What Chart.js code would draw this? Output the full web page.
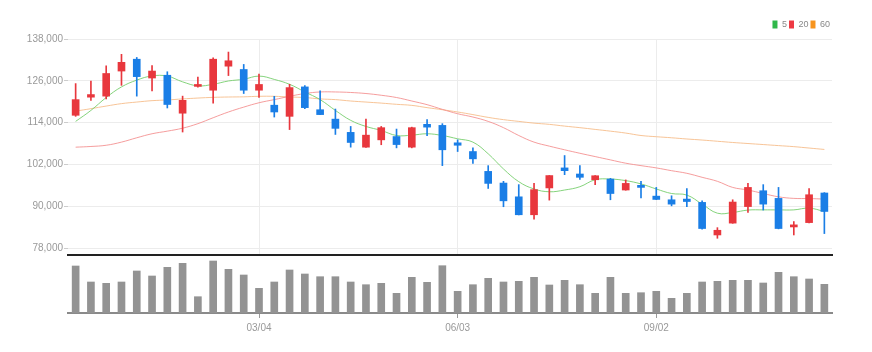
<!DOCTYPE html>
<html>
<head>
<meta charset="utf-8">
<script src="https://cdn.jsdelivr.net/npm/chart.js@4.4.1/dist/chart.umd.min.js"></script>
<style>
  html, body { margin: 0; padding: 0; background: #fff; }
  #wrap { position: relative; width: 872px; height: 352px; }
  #priceBox { position: absolute; left: 0; top: 0; width: 872px; height: 262px; }
  #volBox { position: absolute; left: 0; top: 257px; width: 872px; height: 95px; }
</style>
</head>
<body>
<div id="wrap">
  <div id="volBox"><canvas id="volChart"></canvas></div>
  <div id="priceBox"><canvas id="priceChart"></canvas></div>
</div>
<script>
// weekly candles
const weeks = [
  "12/11", "12/18", "12/25", "01/01", "01/08", "01/15", "01/22", "01/29", "02/05", "02/12",
  "02/19", "02/26", "03/04", "03/11", "03/18", "03/25", "04/01", "04/08", "04/15", "04/22",
  "04/29", "05/06", "05/13", "05/20", "05/27", "06/03", "06/10", "06/17", "06/24", "07/01",
  "07/08", "07/15", "07/22", "07/29", "08/05", "08/12", "08/19", "08/26", "09/02", "09/09",
  "09/16", "09/23", "09/30", "10/07", "10/14", "10/21", "10/28", "11/04", "11/11", "11/18",
];
const shownDates = ["03/04", "06/03", "09/02"];
const priceTicks = [78000, 90000, 102000, 114000, 126000, 138000];

const opens = [
  116100, 121300, 121600, 128800, 132200, 126800, 127600, 116700, 124400, 123300,
  130200, 129250, 123300, 119000, 115800, 124250, 117700, 115000, 111200, 106950,
  109050, 110000, 106950, 113500, 113200, 108200, 105700, 100000, 96650, 92700,
  87550, 95250, 101000, 99250, 97600, 97800, 94650, 96000, 92900, 91850,
  92050, 91100, 81750, 85150, 89900, 94450, 92250, 84050, 85300, 93800,
];
const highs = [
  125200, 125900, 130300, 133600, 132700, 130400, 128600, 121600, 127100, 132600,
  134250, 130700, 127900, 121550, 125000, 124650, 123100, 117900, 112900, 115000,
  112900, 112150, 112700, 114850, 113700, 109050, 106750, 101650, 97150, 96200,
  96550, 98800, 104550, 101650, 98800, 98000, 97550, 97150, 95400, 93000,
  95100, 91550, 83850, 91850, 96550, 96200, 95400, 85600, 95100, 93900,
];
const lows = [
  115800, 120400, 120800, 124700, 121600, 123100, 118200, 111300, 124150, 119600,
  127500, 122350, 121200, 115600, 112000, 118000, 116250, 110600, 106950, 106900,
  107650, 106750, 106750, 110250, 101650, 105700, 102300, 95100, 89850, 87500,
  86300, 91750, 99050, 97700, 96200, 91850, 94600, 92350, 91900, 90100,
  89850, 83400, 80800, 85100, 88200, 88900, 83500, 81750, 85200, 82150,
];
const closes = [
  120600, 122050, 128100, 131300, 127200, 128800, 119200, 120400, 124950, 132200,
  131750, 123300, 124950, 117050, 124050, 118300, 116300, 112350, 108300, 110400,
  112550, 107700, 112550, 112700, 106200, 107500, 103600, 96550, 91550, 87550,
  94750, 98800, 100200, 98300, 98750, 93650, 96550, 95400, 91950, 90600,
  91350, 83600, 83100, 91200, 95400, 90600, 83600, 84650, 93300, 88500,
];

// moving averages as drawn
const ma5 = [
  114350, 117500, 121200, 124250, 126200, 127400, 127350, 125700, 124550, 125000,
  125950, 126450, 127350, 126400, 125000, 122800, 120600, 117500, 114650, 112900,
  111750, 110300, 110400, 110800, 110300, 109350, 108400, 105050, 100700, 97050,
  94950, 94150, 94650, 95600, 97600, 97800, 97350, 96400, 94950, 93650,
  93200, 90600, 88000, 88200, 88900, 88950, 88950, 88950, 89450, 88500,
];
const ma20 = [
  106950, 107150, 107500, 108400, 109650, 110800, 111550, 112400, 113700, 115400,
  117050, 118450, 119700, 120600, 121550, 122350, 122800, 122800, 122650, 122350,
  121850, 121200, 120200, 119150, 117800, 116550, 115600, 114350, 112550, 110300,
  108400, 107250, 106200, 105200, 104250, 103300, 102350, 101650, 101000, 100200,
  99450, 98300, 97150, 95400, 94650, 93650, 92700, 92250, 92200, 92050,
];
const ma60 = [
  117300, 118000, 118750, 119450, 119900, 120300, 120500, 120800, 121050, 121250,
  121350, 121400, 121550, 121550, 121350, 121200, 120800, 120600, 120200, 119900,
  119600, 119250, 118950, 118300, 117700, 117050, 116300, 115500, 114850, 114350,
  113850, 113500, 113000, 112550, 112050, 111550, 111000, 110300, 109950, 109650,
  109300, 109000, 108650, 108300, 108000, 107700, 107400, 107100, 106700, 106300,
];

const volumes = [
  470000, 310000, 297000, 310000, 420000, 370000, 457000, 497000, 163000, 520000,
  437000, 380000, 247000, 310000, 430000, 390000, 363000, 363000, 310000, 283000,
  297000, 197000, 357000, 307000, 473000, 217000, 283000, 347000, 310000, 317000,
  357000, 280000, 327000, 283000, 197000, 357000, 197000, 203000, 217000, 147000,
  197000, 310000, 317000, 327000, 327000, 300000, 407000, 363000, 340000, 287000,
];

const maNames = ["5", "20", "60"];
const UP = "#e8373d";
const DOWN = "#1a7ee6";

Chart.defaults.font.family = "'Liberation Sans Narrow', 'Liberation Sans', Arial, sans-serif";
Chart.defaults.animation = false;

const candleColors = opens.map((o, i) => (closes[i] >= o ? UP : DOWN));
const shownIdx = shownDates.map((d) => weeks.indexOf(d));
function keepShown(scale) {
  scale.ticks = scale.ticks.filter((t) => shownIdx.includes(t.value));
}

const priceChart = new Chart(document.getElementById("priceChart"), {
  type: "bar",
  data: {
    labels: weeks,
    datasets: [
      {
        label: "wick",
        data: lows.map((l, i) => [l, highs[i]]),
        backgroundColor: candleColors,
        barThickness: 1,
        grouped: false,
        order: 1,
      },
      {
        label: "body",
        data: opens.map((o, i) => [o, closes[i]]),
        backgroundColor: candleColors,
        barThickness: 7,
        minBarLength: 1,
        grouped: false,
        order: 0,
      },
      {
        type: "line",
        label: maNames[0],
        data: ma5,
        borderColor: "rgba(120, 206, 110, 0.9)",
        borderWidth: 1,
        pointRadius: 0,
        tension: 0.4,
        order: 2,
      },
      {
        type: "line",
        label: maNames[1],
        data: ma20,
        borderColor: "rgba(243, 140, 140, 0.85)",
        borderWidth: 1,
        pointRadius: 0,
        tension: 0.4,
        order: 2,
      },
      {
        type: "line",
        label: maNames[2],
        data: ma60,
        borderColor: "rgba(246, 190, 140, 0.9)",
        borderWidth: 1,
        pointRadius: 0,
        tension: 0.4,
        order: 2,
      },
    ],
  },
  options: {
    responsive: true,
    maintainAspectRatio: false,
    layout: { padding: { top: 18, right: 40, bottom: 1, left: 0 } },
    plugins: {
      tooltip: { enabled: false },
      legend: {
        position: "top",
        align: "end",
        labels: {
          boxWidth: 5,
          boxHeight: 8,
          padding: 2,
          color: "#888",
          font: { size: 9 },
          generateLabels: () => {
            const fills = ["#2fb84a", "#ee3a44", "#f7941d"];
            return maNames.map((n, i) => ({
              text: n,
              fillStyle: fills[i],
              strokeStyle: fills[i],
              lineWidth: 0,
              fontColor: "#888",
              datasetIndex: i + 2,
              hidden: false,
            }));
          },
        },
      },
    },
    scales: {
      x: {
        offset: true,
        ticks: { display: false },
        grid: { color: "#ececec", drawTicks: false, offset: false },
        border: { color: "#222", width: 2 },
        afterBuildTicks: keepShown,
        afterFit: (s) => {
          s.height = 2;
        },
      },
      y: {
        min: 76000,
        max: 138000,
        afterBuildTicks: (s) => {
          s.ticks = priceTicks.map((v) => ({ value: v }));
        },
        afterFit: (s) => {
          s.width = 68;
        },
        ticks: {
          color: "#999",
          font: { size: 10 },
          padding: 1,
          callback: (v) => v.toLocaleString("en-US"),
        },
        grid: { color: "#ececec", tickLength: 4, tickColor: "#ccc" },
        border: { display: false },
      },
    },
  },
});

const volChart = new Chart(document.getElementById("volChart"), {
  type: "bar",
  data: {
    labels: weeks,
    datasets: [
      {
        label: "volume",
        data: volumes,
        backgroundColor: "#939393",
        barThickness: 7,
      },
    ],
  },
  options: {
    responsive: true,
    maintainAspectRatio: false,
    layout: { padding: { top: 0, right: 40, bottom: 19, left: 68 } },
    plugins: { legend: { display: false }, tooltip: { enabled: false } },
    scales: {
      x: {
        offset: true,
        grid: { drawOnChartArea: false, tickLength: 5, tickColor: "#999", offset: false },
        border: { color: "#8a8a8a", width: 2 },
        ticks: { color: "#999", font: { size: 10 }, padding: 4, maxRotation: 0, autoSkip: false },
        afterBuildTicks: keepShown,
        afterFit: (s) => {
          s.height = 20;
        },
      },
      y: { display: false, min: 0, max: 560000 },
    },
  },
});
</script>
</body>
</html>
